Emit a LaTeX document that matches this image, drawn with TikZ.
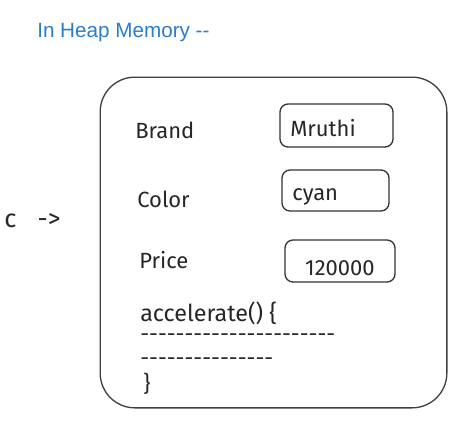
\documentclass[tikz,border=0pt]{standalone}
\usepackage{fontspec}
\setmainfont{Fira Sans}
\newfontfamily\titlefont{Liberation Sans}
\usetikzlibrary{positioning}
\definecolor{heapblue}{HTML}{2A7DC9}
\newcommand\dashrow[1]{\foreach \i in {1,...,#1}{-}} % a row of plain hyphens
\tikzset{
    every node/.style={inner sep=0pt}, % text sits right on its coordinate
    hand/.style={font=\fontsize{16.5}{19}\selectfont, text=black!85}, % the sketchy labels
    field/.style={draw=black!80, line width=1pt, rounded corners=6pt}, % value boxes
    heap/.style={draw=black!75, line width=1pt, rounded corners=26pt, minimum width=260pt, minimum height=248pt}, % the object
}
\begin{document}
\begin{tikzpicture}[x=0.75pt, y=-0.75pt]
    \useasboundingbox (0,0) rectangle (471,439);
    \node[font=\titlefont\fontsize{15.5}{18}\selectfont, text=heapblue, anchor=west] (title) at (37,33) {In Heap Memory --};
    \node[hand, font=\fontsize{19}{21}\selectfont, anchor=west] (ref) at (4,221) {c\hspace{11pt} ->};
    \node[heap] (obj) at (273.5,242.5) {};
    % fields
    \node[field, minimum width=84.75pt, minimum height=32.25pt] (brandbox) at (336.5,125.5) {};
    \node[field, minimum width=80.25pt, minimum height=30.75pt] (colorbox) at (335.5,190.5) {};
    \node[field, minimum width=82.5pt, minimum height=31.5pt] (pricebox) at (340,261) {};
    \node[hand, anchor=west] (brand) at (135,130) {Brand};
    \node[hand, anchor=west] (color) at (137,199) {Color};
    \node[hand, anchor=west] (price) at (139,260) {Price};
    \node[hand, anchor=west] (brandval) at (290,128) {Mruthi};
    \node[hand, anchor=west] (colorval) at (292,197) {cyan};
    \node[hand] (priceval) at (340,268) {120000};
    % method
    \node[hand, font=\fontsize{17.5}{20}\selectfont, anchor=west] (method) at (140,313) {accelerate() \{};
    \node[hand, anchor=west] (body1) at (140,338) {\dashrow{22}};
    \node[hand, anchor=west] (body2) at (140,362) {\dashrow{15}};
    \node[hand, anchor=west] (close) at (143,384) {\}};
\end{tikzpicture}
\end{document}
